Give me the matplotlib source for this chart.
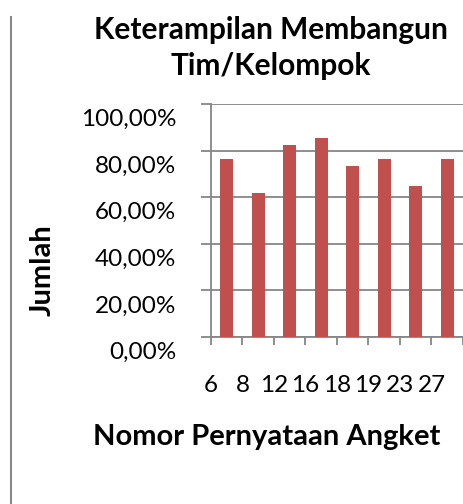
import matplotlib
matplotlib.use("Agg")
import matplotlib.pyplot as plt
from matplotlib.lines import Line2D
from matplotlib.ticker import FuncFormatter
from matplotlib.transforms import ScaledTranslation

categories = ["6", "8", "12", "16", "18", "19", "23", "27"]
values = [76.47, 61.76, 82.35, 85.29, 73.53, 76.47, 64.71, 76.47]
yticks = [0, 20, 40, 60, 80, 100]

FONT = "Lato"
plt.rcParams['font.family'] = [FONT, 'DejaVu Sans']

fig = plt.figure(figsize=(4.64, 5.04), dpi=100)
ax = fig.add_axes([211/464, 1-337/504, (463-211)/464, (337-104)/504])

pos = [i + 0.5 for i in range(len(categories))]
ax.bar(pos, values, width=0.42, color="#C0504D", zorder=3)

ax.set_xlim(0, len(categories))
ax.set_ylim(0, 100)
ax.set_yticks(yticks)
ax.yaxis.set_major_formatter(FuncFormatter(lambda v, p: f"{v:.2f}%".replace(".", ",")))
ax.set_xticks(list(range(len(categories) + 1)))
ax.set_xticklabels(categories + [""])

ax.grid(axis="y", color="#868686", linewidth=1.3, zorder=0)
for s in ["top", "right"]:
    ax.spines[s].set_visible(False)
for s in ["left", "bottom"]:
    ax.spines[s].set_color("#868686")
    ax.spines[s].set_linewidth(1.3)
ax.tick_params(axis="y", length=7, width=1.3, color="#868686", labelsize=17.5, pad=18)
ax.tick_params(axis="x", length=6, width=1.3, color="#868686", labelsize=17.5, pad=21)

shift = ScaledTranslation(0, -13.5/100, fig.dpi_scale_trans)
for lab in ax.get_yticklabels():
    lab.set_transform(lab.get_transform() + shift)

fig.text(271/464, 1-48/504, "Keterampilan Membangun\nTim/Kelompok", ha="center", va="center",
         fontsize=21.5, fontweight="bold", linespacing=1.32)
fig.text(43/464, 1-270/504, "Jumlah", rotation=90, ha="center", va="center",
         fontsize=21, fontweight="bold")
fig.text(267/464, 1-437/504, "Nomor Pernyataan Angket", ha="center", va="center",
         fontsize=21, fontweight="bold")

fig.add_artist(Line2D([11/464, 11/464], [0, 1-17/504], transform=fig.transFigure,
                      color="#888888", linewidth=1.5))

fig.savefig("out.png", dpi=100)
